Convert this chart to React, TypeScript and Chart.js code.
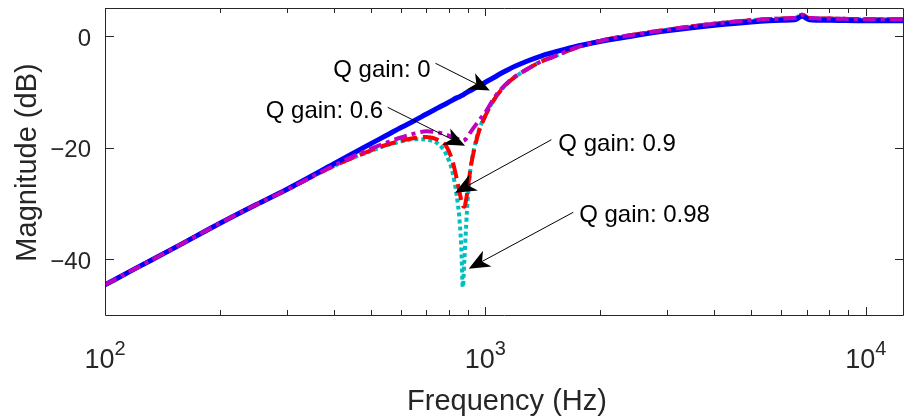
import React, { useEffect, useRef } from "react";
import { Chart, registerables } from "chart.js";

Chart.register(...registerables);

const FONT = '"Liberation Sans", Arial, Helvetica, sans-serif';
const AXIS_COLOR = "rgb(38,38,38)";

// Axis ranges and tick values
const X_MIN = 100;
const X_MAX = 12600;
const Y_MIN = -50;
const Y_MAX = 5;
const X_DECADES = [100, 1000, 10000];
const X_EXPONENTS = ["2", "3", "4"];
const Y_TICKS = [-40, -20, 0];

// Frequency grid (Hz) shared by all responses
const FREQ = [
  100, 120, 150, 200, 250, 300, 400, 500, 550, 600, 650, 700, 750, 790, 820,
  840, 855, 865, 872, 880, 890, 900, 915, 935, 960, 1000, 1050, 1100, 1150,
  1200, 1300, 1400, 1500, 1700, 2000, 2500, 3000, 4000, 5000, 6000, 6500, 6800,
  7100, 8000, 10000, 12600,
];

// Magnitude responses (dB) for each Q gain
const MAG_Q0 = [
  -44.6, -41.7, -38.2, -33.6, -30.2, -27.5, -22.9, -19.3, -17.8, -16.4, -15.2,
  -14.0, -12.9, -12.1, -11.5, -11.1, -10.9, -10.7, -10.6, -10.4, -10.2, -10.0,
  -9.8, -9.4, -9.0, -8.3, -7.5, -6.7, -6.0, -5.4, -4.4, -3.6, -3.0, -2.0, -1.0,
  0.1, 0.9, 1.9, 2.5, 2.8, 2.9, 3.5, 2.9, 2.8, 2.7, 2.7,
];
const MAG_Q06 = [
  -44.6, -41.7, -38.2, -33.6, -30.2, -27.6, -23.2, -20.2, -19.1, -18.2, -17.5,
  -17.1, -17.3, -17.7, -18.1, -18.4, -18.6, -18.7, -18.8, -18.7, -18.4, -17.9,
  -17.2, -16.3, -15.2, -13.7, -11.3, -9.5, -8.2, -7.2, -5.8, -4.6, -3.8, -2.3,
  -0.9, 0.3, 1.1, 2.2, 2.8, 3.1, 3.2, 3.8, 3.2, 3.1, 3.0, 3.0,
];
const MAG_Q09 = [
  -44.6, -41.7, -38.2, -33.6, -30.2, -27.6, -23.3, -20.5, -19.5, -18.8, -18.3,
  -18.1, -18.6, -19.8, -22.5, -25.5, -28.0, -29.6, -30.4, -30.6, -29.3, -27.0,
  -23.5, -20.3, -17.3, -14.3, -11.6, -9.7, -8.3, -7.3, -5.8, -4.6, -3.8, -2.3,
  -0.9, 0.3, 1.1, 2.2, 2.8, 3.1, 3.2, 3.8, 3.2, 3.1, 3.0, 3.0,
];
const MAG_Q098 = [
  -44.6, -41.7, -38.2, -33.6, -30.2, -27.6, -23.3, -20.6, -19.6, -18.9, -18.5,
  -18.6, -19.3, -21.3, -24.5, -28.5, -33.0, -38.5, -45.0, -40.5, -34.0, -28.5,
  -23.5, -20.0, -17.0, -14.2, -11.6, -9.7, -8.3, -7.3, -5.8, -4.6, -3.8, -2.3,
  -0.9, 0.3, 1.1, 2.2, 2.8, 3.1, 3.2, 3.8, 3.2, 3.1, 3.0, 3.0,
];

// Text-arrow annotations (frequency in Hz, magnitude in dB)
const NOTE_LABELS = ["Q gain: 0", "Q gain: 0.6", "Q gain: 0.9", "Q gain: 0.98"];
const NOTE_TEXT_F = [398, 264.5, 1555, 1764];
const NOTE_TEXT_DB = [-5.75, -13.2, -19.1, -31.9];
const NOTE_TAIL_F = [739, 553.6, 1491, 1702];
const NOTE_TAIL_DB = [-4.9, -12.8, -18.6, -31.6];
const NOTE_TIP_F = [1027, 884, 832.6, 904];
const NOTE_TIP_DB = [-9.8, -19.7, -28.1, -41.7];

const toPoints = (mag: number[]) => FREQ.map((f, i) => ({ x: f, y: mag[i] }));

function drawArrow(
  ctx: CanvasRenderingContext2D,
  x1: number,
  y1: number,
  x2: number,
  y2: number
) {
  const ang = Math.atan2(y2 - y1, x2 - x1);
  const L = 21;
  const W = 18;
  const notch = 0.72;
  ctx.beginPath();
  ctx.moveTo(x1, y1);
  ctx.lineTo(x2 - Math.cos(ang) * L * notch, y2 - Math.sin(ang) * L * notch);
  ctx.lineWidth = 1;
  ctx.strokeStyle = "#000";
  ctx.stroke();
  ctx.save();
  ctx.translate(x2, y2);
  ctx.rotate(ang);
  ctx.beginPath();
  ctx.moveTo(0, 0);
  ctx.lineTo(-L, -W / 2);
  ctx.lineTo(-L * notch, 0);
  ctx.lineTo(-L, W / 2);
  ctx.closePath();
  ctx.fillStyle = "#000";
  ctx.fill();
  ctx.restore();
}

const axesPlugin = {
  id: "matlabAxes",
  afterDatasetsDraw(chart: any) {
    const { ctx, chartArea } = chart;
    const xs = chart.scales.x;
    const ys = chart.scales.y;
    const left = Math.round(chartArea.left);
    const right = Math.round(chartArea.right);
    const top = Math.round(chartArea.top);
    const bottom = Math.round(chartArea.bottom);

    ctx.save();
    // Box
    ctx.strokeStyle = AXIS_COLOR;
    ctx.lineWidth = 1;
    ctx.beginPath();
    ctx.rect(left + 0.5, top + 0.5, right - left - 1, bottom - top);
    ctx.stroke();

    // X ticks (log decades with minor ticks), drawn inward on top and bottom
    ctx.beginPath();
    for (const d of X_DECADES) {
      for (let m = 1; m <= 9; m++) {
        const v = d * m;
        if (v < X_MIN || v > X_MAX) continue;
        const px = Math.round(xs.getPixelForValue(v)) + 0.5;
        const len = m === 1 ? 8 : 5;
        ctx.moveTo(px, bottom);
        ctx.lineTo(px, bottom - len);
        ctx.moveTo(px, top);
        ctx.lineTo(px, top + len);
      }
    }
    // Y ticks on left and right
    for (const v of Y_TICKS) {
      const py = Math.round(ys.getPixelForValue(v)) + 0.5;
      ctx.moveTo(left, py);
      ctx.lineTo(left + 9, py);
      ctx.moveTo(right, py);
      ctx.lineTo(right - 9, py);
    }
    ctx.stroke();

    // Y tick labels
    ctx.fillStyle = AXIS_COLOR;
    ctx.font = `24px ${FONT}`;
    ctx.textAlign = "right";
    ctx.textBaseline = "middle";
    for (const v of Y_TICKS) {
      const py = ys.getPixelForValue(v);
      const txt = v < 0 ? "\u2212" + Math.abs(v) : String(v);
      ctx.fillText(txt, left - 14, py + 3);
    }

    // X tick labels as 10^n
    ctx.textAlign = "left";
    ctx.textBaseline = "alphabetic";
    X_DECADES.forEach((d, i) => {
      const px = xs.getPixelForValue(d);
      ctx.font = `27px ${FONT}`;
      const wBase = ctx.measureText("10").width;
      ctx.font = `20px ${FONT}`;
      const wExp = ctx.measureText(X_EXPONENTS[i]).width;
      const x0 = px - (wBase + wExp) / 2;
      ctx.font = `27px ${FONT}`;
      ctx.fillText("10", x0, bottom + 53);
      ctx.font = `20px ${FONT}`;
      ctx.fillText(X_EXPONENTS[i], x0 + wBase, bottom + 40);
    });

    // Axis titles
    ctx.font = `29px ${FONT}`;
    ctx.textAlign = "center";
    ctx.textBaseline = "alphabetic";
    ctx.fillText("Frequency (Hz)", 507, bottom + 95);
    ctx.save();
    ctx.translate(36, (top + bottom) / 2 + 1);
    ctx.rotate(-Math.PI / 2);
    ctx.fillText("Magnitude (dB)", 0, 0);
    ctx.restore();

    // Annotations
    ctx.fillStyle = "#000";
    ctx.font = `24px ${FONT}`;
    ctx.textAlign = "left";
    NOTE_LABELS.forEach((label, i) => {
      const tx = xs.getPixelForValue(NOTE_TEXT_F[i]);
      const ty = ys.getPixelForValue(NOTE_TEXT_DB[i]);
      ctx.fillStyle = "#000";
      ctx.fillText(label, tx, ty + 8.5);
      drawArrow(
        ctx,
        xs.getPixelForValue(NOTE_TAIL_F[i]),
        ys.getPixelForValue(NOTE_TAIL_DB[i]),
        xs.getPixelForValue(NOTE_TIP_F[i]),
        ys.getPixelForValue(NOTE_TIP_DB[i])
      );
    });
    ctx.restore();
  },
};

export default function App() {
  const canvasRef = useRef<HTMLCanvasElement>(null);

  useEffect(() => {
    const canvas = canvasRef.current;
    if (!canvas) return;
    const common = {
      pointRadius: 0,
      fill: false,
      cubicInterpolationMode: "monotone" as const,
      borderCapStyle: "butt" as const,
    };
    const chart = new Chart(canvas, {
      type: "line",
      data: {
        datasets: [
          {
            ...common,
            label: "Q gain: 0.6",
            data: toPoints(MAG_Q06),
            borderColor: "rgb(191,0,191)",
            borderWidth: 4,
            borderDash: [13, 5, 4, 5],
          },
          {
            ...common,
            label: "Q gain: 0",
            data: toPoints(MAG_Q0),
            borderColor: "rgb(0,0,255)",
            borderWidth: 5,
          },
          {
            ...common,
            label: "Q gain: 0.9",
            data: toPoints(MAG_Q09),
            borderColor: "rgb(255,0,0)",
            borderWidth: 4,
            borderDash: [16, 6],
          },
          {
            ...common,
            label: "Q gain: 0.98",
            data: toPoints(MAG_Q098),
            borderColor: "rgb(0,191,191)",
            borderWidth: 4,
            borderDash: [4, 3],
          },
        ],
      },
      options: {
        animation: false,
        responsive: false,
        devicePixelRatio: 1,
        // the right edge of the axes box sits just past the canvas edge
        layout: { padding: { left: 105, right: -7, top: 8, bottom: 104 } },
        plugins: {
          legend: { display: false },
          tooltip: { enabled: false },
        },
        scales: {
          x: { type: "logarithmic", min: X_MIN, max: X_MAX, display: false },
          y: { type: "linear", min: Y_MIN, max: Y_MAX, display: false },
        },
      },
      plugins: [axesPlugin],
    });
    return () => chart.destroy();
  }, []);

  return (
    <div
      style={{
        position: "fixed",
        left: 0,
        top: 0,
        width: 904,
        height: 419,
        background: "#fff",
      }}
    >
      <canvas
        ref={canvasRef}
        width={904}
        height={419}
        style={{ display: "block", width: 904, height: 419 }}
      />
    </div>
  );
}
